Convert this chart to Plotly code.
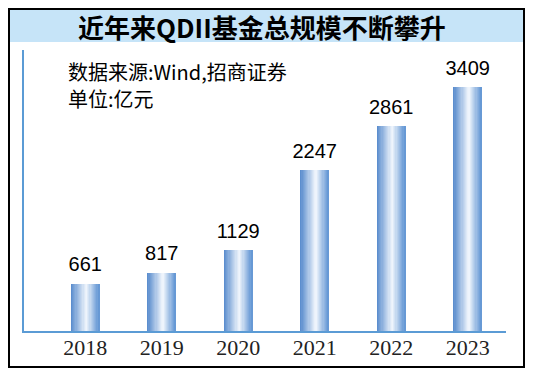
import plotly.graph_objects as go

years = ["2018", "2019", "2020", "2021", "2022", "2023"]
values = [661, 817, 1129, 2247, 2861, 3409]
title_text = "近年来QDII基金总规模不断攀升"
source_text = "数据来源:Wind,招商证券"
unit_text = "单位:亿元"

OFF = 8  # default page body margin
W, H = 533 - OFF, 379 - OFF
ml, mr, mt, mb = 24 - OFF, 27, 50 - OFF, 48
pw, ph = W - ml - mr, H - mt - mb

def px_x(x):
    return (x - OFF - ml) / pw

def px_y(y):
    return (H - mb - (y - OFF)) / ph

idx = list(range(len(years)))
bar_w = 0.367
N = 24
stops = [(0.0, (86, 138, 204)), (0.55, (242, 247, 253)), (1.0, (96, 148, 211))]

def grad(t):
    for (t0, c0), (t1, c1) in zip(stops[:-1], stops[1:]):
        if t0 <= t <= t1:
            f = (t - t0) / (t1 - t0)
            return "rgb(%d,%d,%d)" % tuple(round(a + (b - a) * f) for a, b in zip(c0, c1))
    return "rgb(%d,%d,%d)" % stops[-1][1]

fig = go.Figure()
sw = bar_w / N
for k in range(N):
    t = (k + 0.5) / N
    fig.add_trace(go.Bar(
        x=idx, y=values,
        width=sw * 1.25 if k < N - 1 else sw,
        offset=-bar_w / 2 + k * sw,
        marker=dict(color=grad(t), line=dict(width=0)),
        hoverinfo="skip", showlegend=False,
    ))

fig.add_trace(go.Scatter(
    x=idx, y=values, mode="text+markers", text=[str(v) for v in values],
    textposition="top center",
    marker=dict(size=10, opacity=0),
    textfont=dict(family="Liberation Sans, Arial, sans-serif", size=20, color="black"),
    showlegend=False, hoverinfo="skip",
))

fig.update_layout(
    width=W, height=H,
    margin=dict(l=ml, r=mr, t=mt, b=mb),
    paper_bgcolor="white", plot_bgcolor="white",
    barmode="overlay", bargap=0,
    xaxis=dict(
        range=[-0.8, 5.5], tickvals=idx, ticktext=years,
        showgrid=False, zeroline=False, ticks="", ticklabelstandoff=-4,
        showline=True, linecolor="#5b9bd5", linewidth=1.5,
        tickfont=dict(family="Liberation Serif, Times New Roman, serif", size=22, color="#222"),
    ),
    yaxis=dict(
        range=[0, 3930], showgrid=False, zeroline=False, showticklabels=False,
        ticks="", showline=True, linecolor="#5b9bd5", linewidth=1.5,
    ),
    shapes=[
        dict(type="rect", xref="paper", yref="paper",
             x0=px_x(9), x1=px_x(524), y0=px_y(42), y1=px_y(9),
             fillcolor="#c6e4f8", line=dict(width=0), layer="below"),
        dict(type="rect", xref="paper", yref="paper",
             x0=px_x(9), x1=px_x(524), y0=px_y(367), y1=px_y(9),
             line=dict(color="black", width=2), fillcolor="rgba(0,0,0,0)"),
    ],
    annotations=[
        dict(text="<b>" + title_text + "</b>", xref="paper", yref="paper",
             x=px_x(262), y=px_y(26), xanchor="center", yanchor="middle",
             showarrow=False,
             font=dict(family="Noto Sans CJK SC", size=26, color="black")),
        dict(text=source_text, xref="paper", yref="paper",
             x=px_x(66), y=px_y(72), xanchor="left", yanchor="middle",
             showarrow=False,
             font=dict(family="Noto Sans CJK SC", size=20, color="black")),
        dict(text=unit_text, xref="paper", yref="paper",
             x=px_x(66), y=px_y(98), xanchor="left", yanchor="middle",
             showarrow=False,
             font=dict(family="Noto Sans CJK SC", size=20, color="black")),
    ],
)

fig.write_html("out.html")
